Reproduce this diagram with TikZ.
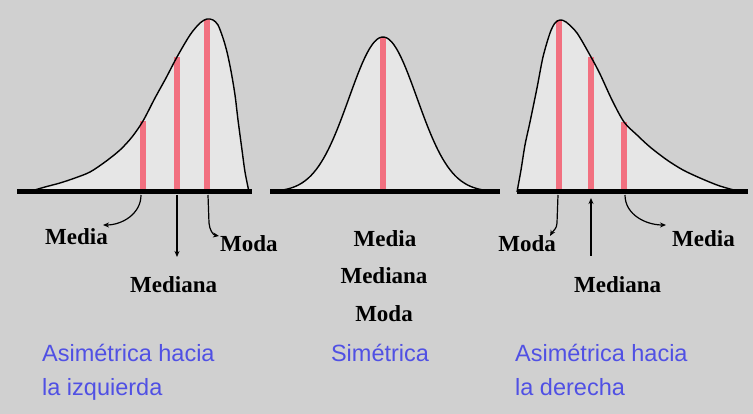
\documentclass[tikz,border=0pt]{standalone}
\usepackage{fontspec}
\setmainfont{Liberation Serif}
\setsansfont{Liberation Sans}
\usetikzlibrary{arrows.meta}
\definecolor{bgcol}{RGB}{208,208,208}
\definecolor{areacol}{RGB}{230,230,230}
\definecolor{barcol}{RGB}{242,112,128}
\definecolor{bluecol}{RGB}{80,80,228}
\tikzset{
  lbl/.style={font=\fontsize{23}{27}\selectfont\bfseries, inner sep=0pt},
  bluelbl/.style={font=\sffamily\fontsize{23.5}{28}\selectfont, text=bluecol, inner sep=0pt},
  bar/.style={line width=6pt, draw=barcol},
  axisline/.style={line width=5pt, draw=black},
  curve/.style={line width=1.4pt, draw=black},
  arr/.style={line width=1.2pt, -{Stealth[length=6pt,width=5pt]}},
}
\begin{document}
\begin{tikzpicture}[x=1pt,y=-1pt]
\fill[bgcol] (0,0) rectangle (753,414);
\useasboundingbox (0,0) rectangle (753,414);

% ---------- panel 1 : skewed left ----------
\def\curveL{(28,192) (45,187) (60,183) (75,178) (90,172) (105,162) (120,150) (132,137) (143,121) (155,98) (166,78) (177,57) (190,35) (200,23) (207,19) (213,20) (218,25) (223,38) (227,52) (231,71) (235,95) (238,120) (242,150) (245,172) (249,192)}
\fill[areacol] plot[smooth] coordinates {\curveL} -- cycle;
\coordinate (l1b) at (143,192); \coordinate (l1t) at (143,121);
\coordinate (l2b) at (177,192); \coordinate (l2t) at (177,57);
\coordinate (l3b) at (207,192); \coordinate (l3t) at (207,19);
\draw[bar] (l1b) -- (l1t);
\draw[bar] (l2b) -- (l2t);
\draw[bar] (l3b) -- (l3t);
\draw[curve] plot[smooth] coordinates {\curveL};
\coordinate (ax1a) at (17,192); \coordinate (ax1b) at (252,192);
\draw[axisline] (ax1a) -- (ax1b);

% ---------- panel 2 : symmetric ----------
\fill[areacol] plot[domain=-108:108, samples=90] ({383+\x},{192-155*exp(-(\x*\x)/2312)}) -- cycle;
\coordinate (s1b) at (383,192); \coordinate (s1t) at (383,37);
\draw[bar] (s1b) -- (s1t);
\draw[curve] plot[domain=-108:108, samples=90] ({383+\x},{192-155*exp(-(\x*\x)/2312)});
\coordinate (ax2a) at (270,192); \coordinate (ax2b) at (500,192);
\draw[axisline] (ax2a) -- (ax2b);

% ---------- panel 3 : skewed right ----------
\def\curveR{(517,192) (521,170) (525,145) (530,122) (537,88) (543,57) (550,33) (555,23) (560,20) (566,22) (577,33) (591,57) (600,74) (612,100) (624,122) (637,135) (650,147) (667,160) (683,170) (700,178) (717,185) (730,189) (742,192)}
\fill[areacol] plot[smooth] coordinates {\curveR} -- cycle;
\coordinate (r1b) at (559,192); \coordinate (r1t) at (559,20);
\coordinate (r2b) at (591,192); \coordinate (r2t) at (591,57);
\coordinate (r3b) at (624,192); \coordinate (r3t) at (624,122);
\draw[bar] (r1b) -- (r1t);
\draw[bar] (r2b) -- (r2t);
\draw[bar] (r3b) -- (r3t);
\draw[curve] plot[smooth] coordinates {\curveR};
\coordinate (ax3a) at (517,192); \coordinate (ax3b) at (748,192);
\draw[axisline] (ax3a) -- (ax3b);

% ---------- labels ----------
\node[lbl, anchor=base west] (mediaL) at (45,245) {Media};
\node[lbl, anchor=base west] (medianaL) at (130,293) {Mediana};
\node[lbl, anchor=base west] (modaL) at (220,252) {Moda};

\node[lbl, anchor=base] (mediaS) at (385,247) {Media};
\node[lbl, anchor=base] (medianaS) at (384,284) {Mediana};
\node[lbl, anchor=base] (modaS) at (384,322) {Moda};

\node[lbl, anchor=base east] (modaR) at (556,252) {Moda};
\node[lbl, anchor=base west] (medianaR) at (574,293) {Mediana};
\node[lbl, anchor=base west] (mediaR) at (672,247) {Media};

\node[bluelbl, anchor=base west] (asimL1) at (42,362) {Asimétrica hacia};
\node[bluelbl, anchor=base west] (asimL2) at (42,395) {la izquierda};
\node[bluelbl, anchor=base] (sim) at (380,362) {Simétrica};
\node[bluelbl, anchor=base west] (asimR1) at (515,362) {Asimétrica hacia};
\node[bluelbl, anchor=base west] (asimR2) at (515,395) {la derecha};

% ---------- arrows ----------
\coordinate (mediaLend) at (103,225);
\coordinate (medianaLend) at (177,257);
\coordinate (modaLend) at (219,236);
\coordinate (modaRend) at (550,236);
\coordinate (medianaRstart) at (591,256);
\coordinate (medianaRend) at (591,198);
\coordinate (mediaRend) at (666,225);
\coordinate (l1a) at (141,195);
\coordinate (l2a) at (177,195);
\coordinate (l3a) at (208,195);
\coordinate (r1a) at (558,195);
\coordinate (r3a) at (625,195);

\draw[arr] (l1a) to[out=-90,in=0] (mediaLend);
\draw[arr] (l2a) -- (medianaLend);
\draw[arr] (l3a) -- ++(1,28) to[out=-85,in=170] (modaLend);
\draw[arr] (r1a) -- ++(-1,28) to[out=-90,in=60] (modaRend);
\draw[arr] (medianaRstart) -- (medianaRend);
\draw[arr] (r3a) to[out=-90,in=180] (mediaRend);
\end{tikzpicture}
\end{document}
